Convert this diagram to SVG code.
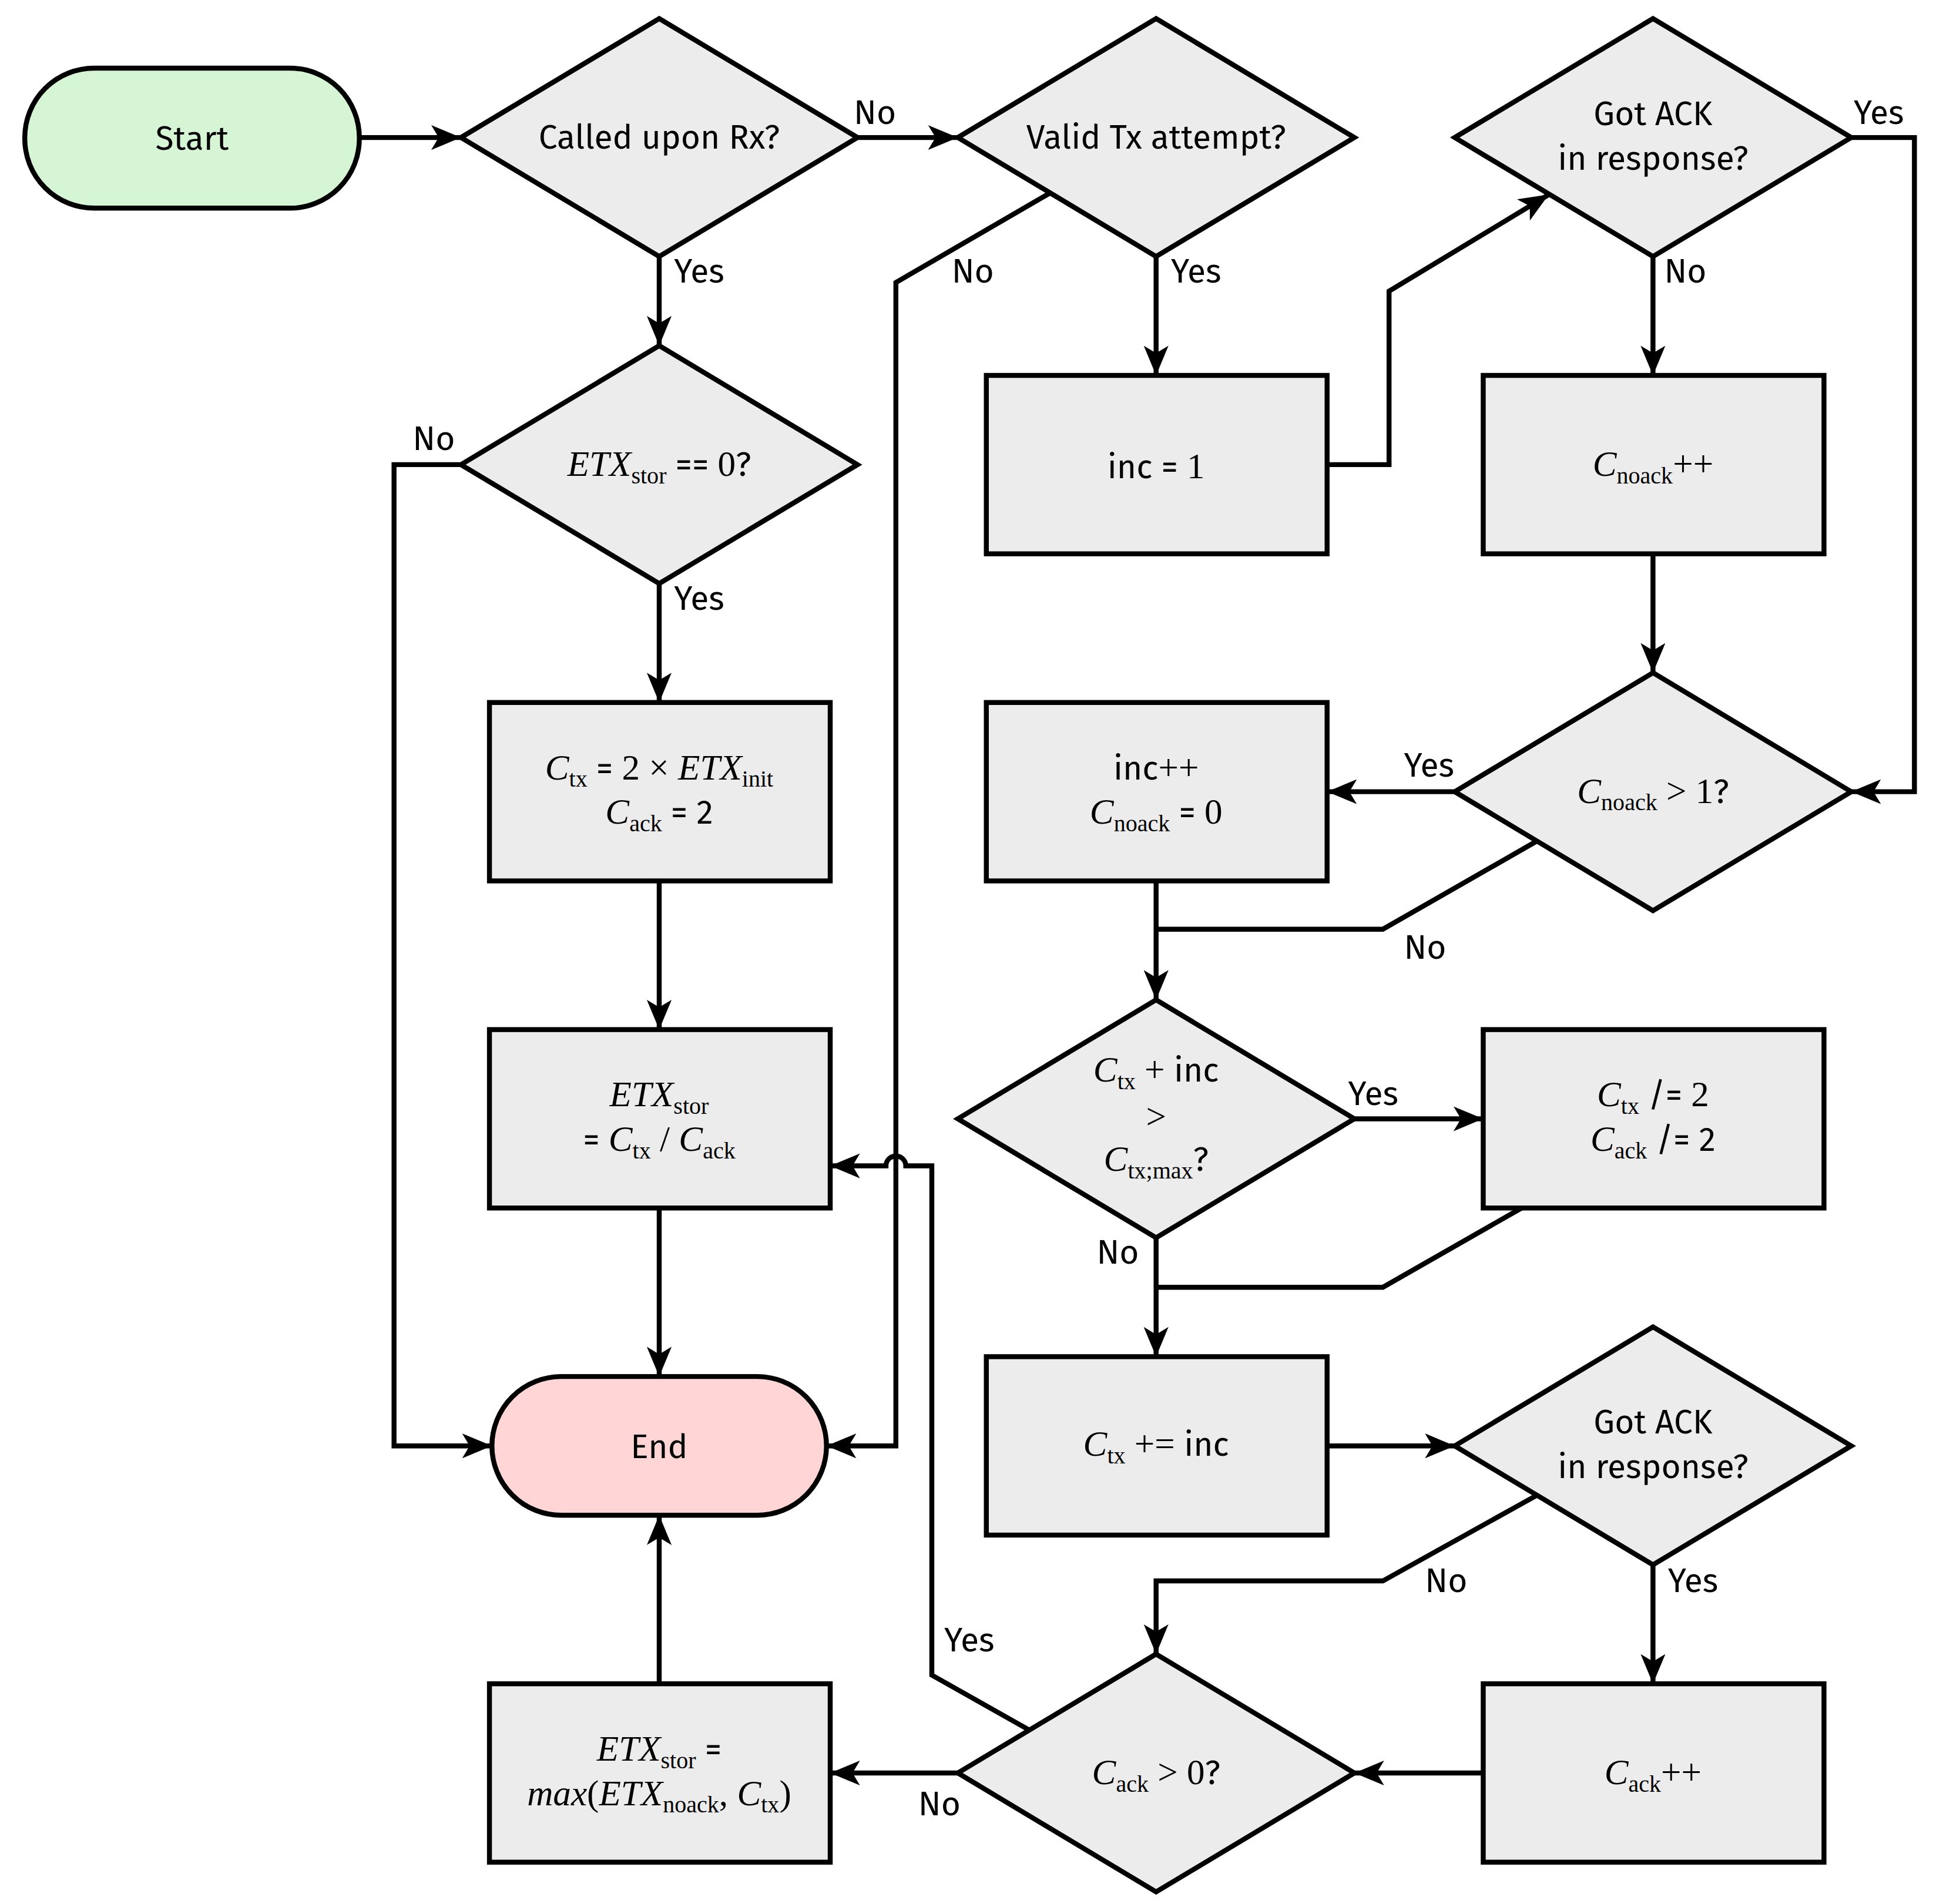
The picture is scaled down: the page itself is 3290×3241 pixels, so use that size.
<svg xmlns="http://www.w3.org/2000/svg" width="3290" height="3241" viewBox="0 0 3290 3241">
<defs>
<style>
.n{fill:#ececec;stroke:#000;stroke-width:4}
.t{font-family:"Fira Sans","Open Sans","Noto Sans",sans-serif;font-size:27px;text-anchor:middle;fill:#000}
.l{font-family:"Fira Sans","Open Sans","Noto Sans",sans-serif;font-size:27px;fill:#000}
.m{font-family:"Liberation Serif",serif;font-style:italic;font-size:29px}
.r{font-family:"Liberation Serif",serif;font-size:29px}
.s{font-family:"Liberation Serif",serif;font-size:19px}
.c path,.c polyline{fill:none;stroke:#000;stroke-width:4}
</style>
<marker id="a" markerUnits="userSpaceOnUse" viewBox="0 0 24 20" refX="24" refY="10" markerWidth="24" markerHeight="20" orient="auto"><path d="M0,0L24,10L0,20L6,10z" fill="#000"/></marker>
</defs>
<rect width="3290" height="3241" fill="#fff"/>
<g transform="scale(2.109)">
<g class="c">
<path d="M290,111H372" marker-end="url(#a)"/>
<path d="M692,111H773" marker-end="url(#a)"/>
<path d="M532,207V279" marker-end="url(#a)"/>
<path d="M847,156L723,228V1167H667" marker-end="url(#a)"/>
<path d="M933,207V303" marker-end="url(#a)"/>
<path d="M1071,375H1121V235L1250,157" marker-end="url(#a)"/>
<path d="M1494,111H1545V639H1494" marker-end="url(#a)"/>
<path d="M1334,207V303" marker-end="url(#a)"/>
<path d="M1334,447V543" marker-end="url(#a)"/>
<path d="M1174,639H1071" marker-end="url(#a)"/>
<path d="M1240,679L1116,750H933"/>
<path d="M933,711V807" marker-end="url(#a)"/>
<path d="M372,375H318V1167H397" marker-end="url(#a)"/>
<path d="M532,471V567" marker-end="url(#a)"/>
<path d="M532,711V831" marker-end="url(#a)"/>
<path d="M532,975V1111" marker-end="url(#a)"/>
<path d="M1093,903H1197" marker-end="url(#a)"/>
<path d="M933,999V1095" marker-end="url(#a)"/>
<path d="M1228,975L1116,1039H933"/>
<path d="M1071,1167H1174" marker-end="url(#a)"/>
<path d="M1240,1207L1116,1276H933V1335" marker-end="url(#a)"/>
<path d="M1334,1263V1359" marker-end="url(#a)"/>
<path d="M1197,1431H1093" marker-end="url(#a)"/>
<path d="M773,1431H670" marker-end="url(#a)"/>
<path d="M830,1396L752,1352V941H731A8,8 0 0 0 715,941H670" marker-end="url(#a)"/>
<path d="M532,1359V1223" marker-end="url(#a)"/>
</g>
<g id="labels" class="l">
<text x="689" y="100">No</text>
<text x="544" y="228">Yes</text>
<text x="768" y="228">No</text>
<text x="945" y="228">Yes</text>
<text x="1496" y="100">Yes</text>
<text x="1343" y="228">No</text>
<text x="333" y="363">No</text>
<text x="544" y="492">Yes</text>
<text x="1133" y="627">Yes</text>
<text x="1133" y="774">No</text>
<text x="1088" y="892">Yes</text>
<text x="885" y="1020">No</text>
<text x="1150" y="1285">No</text>
<text x="1346" y="1285">Yes</text>
<text x="762" y="1333">Yes</text>
<text x="741" y="1465">No</text>
</g>
<g id="start"><rect x="20" y="55" width="270" height="113" rx="56" fill="#d5f5d5" stroke="#000" stroke-width="4"/><text class="t" x="155" y="121">Start</text></g>
<g id="d1"><polygon class="n" points="532,15 692,111 532,207 372,111"/><text class="t" x="532" y="120">Called upon Rx?</text></g>
<g id="d2"><polygon class="n" points="933,15 1093,111 933,207 773,111"/><text class="t" x="933" y="120">Valid Tx attempt?</text></g>
<g id="d3"><polygon class="n" points="1334,15 1494,111 1334,207 1174,111"/><text class="t" x="1334" y="101">Got ACK</text><text class="t" x="1334" y="137">in response?</text></g>
<g id="d4"><polygon class="n" points="532,279 692,375 532,471 372,375"/><text class="t" x="532" y="384"><tspan class="m">ETX</tspan><tspan class="s" dy="6">stor</tspan><tspan dy="-6"> == </tspan><tspan class="r">0</tspan>?</text></g>
<g id="b1"><rect class="n" x="796" y="303" width="275" height="144"/><text class="t" x="933" y="386">inc = <tspan class="r">1</tspan></text></g>
<g id="b2"><rect class="n" x="1197" y="303" width="275" height="144"/><text class="t" x="1334" y="384"><tspan class="m">C</tspan><tspan class="s" dy="6">noack</tspan><tspan class="r" dy="-6">++</tspan></text></g>
<g id="b3"><rect class="n" x="395" y="567" width="275" height="144"/><text class="t" x="532" y="629"><tspan class="m">C</tspan><tspan class="s" dy="6">tx</tspan><tspan dy="-6"> = </tspan><tspan class="r">2 × </tspan><tspan class="m">ETX</tspan><tspan class="s" dy="6">init</tspan></text><text class="t" x="532" y="665"><tspan class="m">C</tspan><tspan class="s" dy="6">ack</tspan><tspan dy="-6"> = 2</tspan></text></g>
<g id="b4"><rect class="n" x="796" y="567" width="275" height="144"/><text class="t" x="933" y="629">inc<tspan class="r">++</tspan></text><text class="t" x="933" y="665"><tspan class="m">C</tspan><tspan class="s" dy="6">noack</tspan><tspan dy="-6"> = </tspan><tspan class="r">0</tspan></text></g>
<g id="d5"><polygon class="n" points="1334,543 1494,639 1334,735 1174,639"/><text class="t" x="1334" y="648"><tspan class="m">C</tspan><tspan class="s" dy="6">noack</tspan><tspan class="r" dy="-6"> &gt; 1</tspan>?</text></g>
<g id="b5"><rect class="n" x="395" y="831" width="275" height="144"/><text class="t" x="532" y="893"><tspan class="m">ETX</tspan><tspan class="s" dy="6">stor</tspan></text><text class="t" x="532" y="929">= <tspan class="m">C</tspan><tspan class="s" dy="6">tx</tspan><tspan class="r" dy="-6"> / </tspan><tspan class="m">C</tspan><tspan class="s" dy="6">ack</tspan></text></g>
<g id="d6"><polygon class="n" points="933,807 1093,903 933,999 773,903"/><text class="t" x="933" y="873"><tspan class="m">C</tspan><tspan class="s" dy="6">tx</tspan><tspan class="r" dy="-6"> + </tspan>inc</text><text class="t r" x="933" y="911">&gt;</text><text class="t" x="933" y="945"><tspan class="m">C</tspan><tspan class="s" dy="6">tx;max</tspan><tspan dy="-6">?</tspan></text></g>
<g id="b6"><rect class="n" x="1197" y="831" width="275" height="144"/><text class="t" x="1334" y="893"><tspan class="m">C</tspan><tspan class="s" dy="6">tx</tspan><tspan dy="-6"> /= </tspan><tspan class="r">2</tspan></text><text class="t" x="1334" y="929"><tspan class="m">C</tspan><tspan class="s" dy="6">ack</tspan><tspan dy="-6"> /= 2</tspan></text></g>
<g id="end"><rect x="397" y="1111" width="270" height="112" rx="56" fill="#ffd5d5" stroke="#000" stroke-width="4"/><text class="t" x="532" y="1177">End</text></g>
<g id="b7"><rect class="n" x="796" y="1095" width="275" height="144"/><text class="t" x="933" y="1175"><tspan class="m">C</tspan><tspan class="s" dy="6">tx</tspan><tspan class="r" dy="-6"> += </tspan>inc</text></g>
<g id="d7"><polygon class="n" points="1334,1071 1494,1167 1334,1263 1174,1167"/><text class="t" x="1334" y="1157">Got ACK</text><text class="t" x="1334" y="1193">in response?</text></g>
<g id="d8"><polygon class="n" points="933,1335 1093,1431 933,1527 773,1431"/><text class="t" x="933" y="1440"><tspan class="m">C</tspan><tspan class="s" dy="6">ack</tspan><tspan class="r" dy="-6"> &gt; 0</tspan>?</text></g>
<g id="b8"><rect class="n" x="395" y="1359" width="275" height="144"/><text class="t" x="532" y="1421"><tspan class="m">ETX</tspan><tspan class="s" dy="6">stor</tspan><tspan dy="-6"> =</tspan></text><text class="t" x="532" y="1457"><tspan class="m">max</tspan><tspan class="r">(</tspan><tspan class="m">ETX</tspan><tspan class="s" dy="6">noack</tspan><tspan class="r" dy="-6">, </tspan><tspan class="m">C</tspan><tspan class="s" dy="6">tx</tspan><tspan class="r" dy="-6">)</tspan></text></g>
<g id="b9"><rect class="n" x="1197" y="1359" width="275" height="144"/><text class="t" x="1334" y="1440"><tspan class="m">C</tspan><tspan class="s" dy="6">ack</tspan><tspan class="r" dy="-6">++</tspan></text></g>
</g>
</svg>
